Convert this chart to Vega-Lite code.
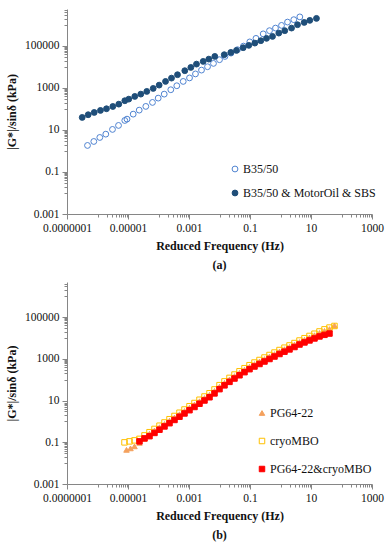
{
  "$schema": "https://vega.github.io/schema/vega-lite/v6.json",
  "padding": {"left": 5, "top": 4, "right": 5, "bottom": 5},
  "background": "white",
  "spacing": 6,
  "resolve": {
    "scale": {"fill": "independent", "stroke": "independent", "shape": "independent", "x": "independent", "y": "independent"},
    "legend": {"fill": "independent", "stroke": "independent", "shape": "independent"}
  },
  "config": {
    "font": "Liberation Serif",
    "view": {"stroke": null},
    "axis": {
      "grid": false,
      "domainColor": "#868686",
      "tickColor": "#868686",
      "labelFont": "Liberation Serif",
      "labelFontSize": 11.5,
      "labelColor": "#111",
      "labelOverlap": false,
      "labelFlush": false,
      "labelPadding": 3,
      "titleFont": "Liberation Serif",
      "titleFontSize": 12,
      "titleFontWeight": "bold",
      "titleColor": "#111"
    },
    "legend": {"labelFont": "Liberation Serif", "labelFontSize": 12, "labelColor": "#111"}
  },
  "vconcat": [
    {
      "title": {"text": "(a)", "orient": "bottom", "fontSize": 12, "fontWeight": "bold", "font": "Liberation Serif", "offset": 8, "color": "#111"},
      "width": 305,
      "height": 205,
      "data": {"values": [
        {"series": "B35/50", "f": 4.70e-7, "G": 1.83},
        {"series": "B35/50", "f": 7.57e-7, "G": 2.83},
        {"series": "B35/50", "f": 1.19e-6, "G": 4.39},
        {"series": "B35/50", "f": 1.87e-6, "G": 6.31},
        {"series": "B35/50", "f": 3.10e-6, "G": 10.6},
        {"series": "B35/50", "f": 4.89e-6, "G": 16.4},
        {"series": "B35/50", "f": 7.85e-6, "G": 28.3},
        {"series": "B35/50", "f": 9.27e-6, "G": 32.7},
        {"series": "B35/50", "f": 1.48e-5, "G": 56.5},
        {"series": "B35/50", "f": 2.33e-5, "G": 87.7},
        {"series": "B35/50", "f": 3.84e-5, "G": 132},
        {"series": "B35/50", "f": 6.35e-5, "G": 204},
        {"series": "B35/50", "f": 9.77e-5, "G": 327},
        {"series": "B35/50", "f": 1.54e-4, "G": 507},
        {"series": "B35/50", "f": 2.53e-4, "G": 820},
        {"series": "B35/50", "f": 3.98e-4, "G": 1270},
        {"series": "B35/50", "f": 6.46e-4, "G": 2040},
        {"series": "B35/50", "f": 1.04e-3, "G": 2990},
        {"series": "B35/50", "f": 1.63e-3, "G": 4640},
        {"series": "B35/50", "f": 2.57e-3, "G": 7050},
        {"series": "B35/50", "f": 4.05e-3, "G": 10200},
        {"series": "B35/50", "f": 6.35e-3, "G": 14700},
        {"series": "B35/50", "f": 0.0100, "G": 22000},
        {"series": "B35/50", "f": 0.0151, "G": 31600},
        {"series": "B35/50", "f": 0.0238, "G": 45400},
        {"series": "B35/50", "f": 0.0389, "G": 65900},
        {"series": "B35/50", "f": 0.0612, "G": 97800},
        {"series": "B35/50", "f": 0.0984, "G": 155000},
        {"series": "B35/50", "f": 0.157, "G": 228000},
        {"series": "B35/50", "f": 0.271, "G": 373000},
        {"series": "B35/50", "f": 0.436, "G": 530000},
        {"series": "B35/50", "f": 0.685, "G": 705000},
        {"series": "B35/50", "f": 1.08, "G": 946000},
        {"series": "B35/50", "f": 1.70, "G": 1360000},
        {"series": "B35/50", "f": 2.73, "G": 1770000},
        {"series": "B35/50", "f": 4.30, "G": 2400000},
        {"series": "B35/50 & MotorOil & SBS", "f": 3.15e-7, "G": 39.4},
        {"series": "B35/50 & MotorOil & SBS", "f": 4.95e-7, "G": 53},
        {"series": "B35/50 & MotorOil & SBS", "f": 7.8e-7, "G": 68},
        {"series": "B35/50 & MotorOil & SBS", "f": 1.25e-6, "G": 85},
        {"series": "B35/50 & MotorOil & SBS", "f": 1.97e-6, "G": 102},
        {"series": "B35/50 & MotorOil & SBS", "f": 3.18e-6, "G": 131},
        {"series": "B35/50 & MotorOil & SBS", "f": 4.99e-6, "G": 169},
        {"series": "B35/50 & MotorOil & SBS", "f": 7.85e-6, "G": 246},
        {"series": "B35/50 & MotorOil & SBS", "f": 1.06e-5, "G": 293},
        {"series": "B35/50 & MotorOil & SBS", "f": 1.67e-5, "G": 394},
        {"series": "B35/50 & MotorOil & SBS", "f": 2.63e-5, "G": 507},
        {"series": "B35/50 & MotorOil & SBS", "f": 4.13e-5, "G": 681},
        {"series": "B35/50 & MotorOil & SBS", "f": 6.70e-5, "G": 946},
        {"series": "B35/50 & MotorOil & SBS", "f": 1.05e-4, "G": 1360},
        {"series": "B35/50 & MotorOil & SBS", "f": 1.70e-4, "G": 2040},
        {"series": "B35/50 & MotorOil & SBS", "f": 2.67e-4, "G": 2930},
        {"series": "B35/50 & MotorOil & SBS", "f": 4.20e-4, "G": 4260},
        {"series": "B35/50 & MotorOil & SBS", "f": 7.28e-4, "G": 6600},
        {"series": "B35/50 & MotorOil & SBS", "f": 1.15e-3, "G": 9460},
        {"series": "B35/50 & MotorOil & SBS", "f": 1.76e-3, "G": 13600},
        {"series": "B35/50 & MotorOil & SBS", "f": 2.92e-3, "G": 18300},
        {"series": "B35/50 & MotorOil & SBS", "f": 4.46e-3, "G": 23500},
        {"series": "B35/50 & MotorOil & SBS", "f": 7.02e-3, "G": 31600},
        {"series": "B35/50 & MotorOil & SBS", "f": 0.0143, "G": 38100},
        {"series": "B35/50 & MotorOil & SBS", "f": 0.0235, "G": 49000},
        {"series": "B35/50 & MotorOil & SBS", "f": 0.0361, "G": 61100},
        {"series": "B35/50 & MotorOil & SBS", "f": 0.0598, "G": 82000},
        {"series": "B35/50 & MotorOil & SBS", "f": 0.0914, "G": 106000},
        {"series": "B35/50 & MotorOil & SBS", "f": 0.144, "G": 136000},
        {"series": "B35/50 & MotorOil & SBS", "f": 0.226, "G": 177000},
        {"series": "B35/50 & MotorOil & SBS", "f": 0.348, "G": 228000},
        {"series": "B35/50 & MotorOil & SBS", "f": 0.547, "G": 283000},
        {"series": "B35/50 & MotorOil & SBS", "f": 0.880, "G": 407000},
        {"series": "B35/50 & MotorOil & SBS", "f": 1.38, "G": 530000},
        {"series": "B35/50 & MotorOil & SBS", "f": 2.30, "G": 705000},
        {"series": "B35/50 & MotorOil & SBS", "f": 3.61, "G": 1020000},
        {"series": "B35/50 & MotorOil & SBS", "f": 5.98, "G": 1310000},
        {"series": "B35/50 & MotorOil & SBS", "f": 9.14, "G": 1640000},
        {"series": "B35/50 & MotorOil & SBS", "f": 15.1, "G": 2040000}
      ]},
      "mark": {"type": "point", "shape": "circle", "size": 34, "strokeWidth": 1, "opacity": 1},
      "encoding": {
        "x": {
          "field": "f", "type": "quantitative",
          "scale": {"type": "log", "domain": [1e-7, 1000], "nice": false},
          "axis": {
            "title": "Reduced Frequency (Hz)", "titlePadding": 7,
            "values": [1e-7, 1e-6, 2e-6, 3e-6, 4e-6, 5e-6, 6e-6, 7e-6, 8e-6, 9e-6, 1e-5, 1e-4, 2e-4, 3e-4, 4e-4, 5e-4, 6e-4, 7e-4, 8e-4, 9e-4, 0.001, 0.01, 0.02, 0.03, 0.04, 0.05, 0.06, 0.07, 0.08, 0.09, 0.1, 1, 2, 3, 4, 5, 6, 7, 8, 9, 10, 100, 200, 300, 400, 500, 600, 700, 800, 900, 1000],
            "tickSize": {"condition": {"test": "abs(log(datum.value)/LN10 - round(log(datum.value)/LN10)) < 0.001 && abs(round(log(datum.value)/LN10)) % 2 == 1", "value": 5}, "value": 3},
            "labelExpr": "(abs(log(datum.value)/LN10 - round(log(datum.value)/LN10)) < 0.001 && abs(round(log(datum.value)/LN10)) % 2 == 1) ? (round(log(datum.value)/LN10) < 0 ? format(datum.value, '.' + (-round(log(datum.value)/LN10)) + 'f') : format(datum.value, 'd')) : ''"
          }
        },
        "y": {
          "field": "G", "type": "quantitative",
          "scale": {"type": "log", "domain": [0.001, 5700000], "nice": false},
          "axis": {
            "title": "|G*|/sinδ (kPa)", "titlePadding": 6,
            "values": [0.001, 0.01, 0.02, 0.03, 0.04, 0.05, 0.06, 0.07, 0.08, 0.09, 0.1, 1, 2, 3, 4, 5, 6, 7, 8, 9, 10, 100, 200, 300, 400, 500, 600, 700, 800, 900, 1000, 10000, 20000, 30000, 40000, 50000, 60000, 70000, 80000, 90000, 100000, 1000000, 2000000, 3000000, 4000000, 5000000],
            "tickSize": {"condition": {"test": "abs(log(datum.value)/LN10 - round(log(datum.value)/LN10)) < 0.001 && abs(round(log(datum.value)/LN10)) % 2 == 1", "value": 5}, "value": 3},
            "labelExpr": "(abs(log(datum.value)/LN10 - round(log(datum.value)/LN10)) < 0.001 && abs(round(log(datum.value)/LN10)) % 2 == 1) ? (round(log(datum.value)/LN10) < 0 ? format(datum.value, '.' + (-round(log(datum.value)/LN10)) + 'f') : format(datum.value, 'd')) : ''"
          }
        },
        "fill": {
          "field": "series", "type": "nominal",
          "scale": {"domain": ["B35/50", "B35/50 & MotorOil & SBS"], "range": ["transparent", "#1F4E79"]},
          "legend": {"title": null, "orient": "none", "legendX": 162, "legendY": 154, "rowPadding": 12, "symbolSize": 34, "symbolStrokeWidth": 1, "labelOffset": 2}
        },
        "stroke": {
          "field": "series", "type": "nominal",
          "scale": {"domain": ["B35/50", "B35/50 & MotorOil & SBS"], "range": ["#4F83D1", "#1F4E79"]},
          "legend": {"title": null, "orient": "none", "legendX": 162, "legendY": 154, "rowPadding": 12, "symbolSize": 34, "symbolStrokeWidth": 1, "labelOffset": 2}
        }
      }
    },
    {
      "title": {"text": "(b)", "orient": "bottom", "fontSize": 12, "fontWeight": "bold", "font": "Liberation Serif", "offset": 8, "color": "#111"},
      "width": 305,
      "height": 202,
      "data": {"values": [
        {"series": "PG64-22", "f": 8.93e-6, "G": 0.0433},
        {"series": "PG64-22", "f": 1.208e-5, "G": 0.0510},
        {"series": "PG64-22", "f": 1.633e-5, "G": 0.0637},
        {"series": "PG64-22", "f": 2.38e-5, "G": 0.0936},
        {"series": "PG64-22", "f": 3.475e-5, "G": 0.1455},
        {"series": "PG64-22", "f": 5.07e-5, "G": 0.258},
        {"series": "PG64-22", "f": 7.39e-5, "G": 0.369},
        {"series": "PG64-22", "f": 1.078e-4, "G": 0.527},
        {"series": "PG64-22", "f": 1.573e-4, "G": 0.756},
        {"series": "PG64-22", "f": 2.294e-4, "G": 1.080},
        {"series": "PG64-22", "f": 3.346e-4, "G": 1.545},
        {"series": "PG64-22", "f": 4.88e-4, "G": 2.21},
        {"series": "PG64-22", "f": 7.12e-4, "G": 3.163},
        {"series": "PG64-22", "f": 1.038e-3, "G": 4.53},
        {"series": "PG64-22", "f": 1.515e-3, "G": 6.47},
        {"series": "PG64-22", "f": 2.21e-3, "G": 9.26},
        {"series": "PG64-22", "f": 3.22e-3, "G": 13.25},
        {"series": "PG64-22", "f": 4.70e-3, "G": 18.9},
        {"series": "PG64-22", "f": 6.86e-3, "G": 28.9},
        {"series": "PG64-22", "f": 0.01, "G": 46.2},
        {"series": "PG64-22", "f": 0.01459, "G": 70.4},
        {"series": "PG64-22", "f": 0.02128, "G": 103.4},
        {"series": "PG64-22", "f": 0.03103, "G": 149.4},
        {"series": "PG64-22", "f": 0.04526, "G": 213.7},
        {"series": "PG64-22", "f": 0.06602, "G": 301},
        {"series": "PG64-22", "f": 0.0963, "G": 419},
        {"series": "PG64-22", "f": 0.1404, "G": 564},
        {"series": "PG64-22", "f": 0.2049, "G": 744},
        {"series": "PG64-22", "f": 0.2988, "G": 978},
        {"series": "PG64-22", "f": 0.4358, "G": 1289},
        {"series": "PG64-22", "f": 0.6356, "G": 1696},
        {"series": "PG64-22", "f": 0.927, "G": 2235},
        {"series": "PG64-22", "f": 1.352, "G": 2893},
        {"series": "PG64-22", "f": 1.973, "G": 3710},
        {"series": "PG64-22", "f": 2.877, "G": 4834},
        {"series": "PG64-22", "f": 4.198, "G": 6373},
        {"series": "PG64-22", "f": 6.12, "G": 8251},
        {"series": "PG64-22", "f": 8.93, "G": 10575},
        {"series": "PG64-22", "f": 13.02, "G": 13534},
        {"series": "PG64-22", "f": 19.0, "G": 17350},
        {"series": "PG64-22", "f": 27.7, "G": 21860},
        {"series": "PG64-22", "f": 40.4, "G": 26690},
        {"series": "PG64-22", "f": 58.9, "G": 39200},
        {"series": "cryoMBO", "f": 7.68e-6, "G": 0.0989},
        {"series": "cryoMBO", "f": 1.12e-5, "G": 0.1104},
        {"series": "cryoMBO", "f": 1.633e-5, "G": 0.1233},
        {"series": "cryoMBO", "f": 2.38e-5, "G": 0.1455},
        {"series": "cryoMBO", "f": 3.475e-5, "G": 0.2138},
        {"series": "cryoMBO", "f": 5.07e-5, "G": 0.304},
        {"series": "cryoMBO", "f": 7.39e-5, "G": 0.4355},
        {"series": "cryoMBO", "f": 1.078e-4, "G": 0.622},
        {"series": "cryoMBO", "f": 1.573e-4, "G": 0.891},
        {"series": "cryoMBO", "f": 2.294e-4, "G": 1.274},
        {"series": "cryoMBO", "f": 3.346e-4, "G": 1.822},
        {"series": "cryoMBO", "f": 4.88e-4, "G": 2.606},
        {"series": "cryoMBO", "f": 7.12e-4, "G": 3.73},
        {"series": "cryoMBO", "f": 1.038e-3, "G": 5.34},
        {"series": "cryoMBO", "f": 1.515e-3, "G": 7.63},
        {"series": "cryoMBO", "f": 2.21e-3, "G": 10.92},
        {"series": "cryoMBO", "f": 3.22e-3, "G": 15.62},
        {"series": "cryoMBO", "f": 4.70e-3, "G": 22.3},
        {"series": "cryoMBO", "f": 6.86e-3, "G": 34.1},
        {"series": "cryoMBO", "f": 0.01, "G": 54.5},
        {"series": "cryoMBO", "f": 0.01459, "G": 83.0},
        {"series": "cryoMBO", "f": 0.02128, "G": 121.9},
        {"series": "cryoMBO", "f": 0.03103, "G": 176.2},
        {"series": "cryoMBO", "f": 0.04526, "G": 252},
        {"series": "cryoMBO", "f": 0.06602, "G": 355},
        {"series": "cryoMBO", "f": 0.0963, "G": 494},
        {"series": "cryoMBO", "f": 0.1404, "G": 665},
        {"series": "cryoMBO", "f": 0.2049, "G": 877},
        {"series": "cryoMBO", "f": 0.2988, "G": 1153},
        {"series": "cryoMBO", "f": 0.4358, "G": 1520},
        {"series": "cryoMBO", "f": 0.6356, "G": 2000},
        {"series": "cryoMBO", "f": 0.927, "G": 2636},
        {"series": "cryoMBO", "f": 1.352, "G": 3412},
        {"series": "cryoMBO", "f": 1.973, "G": 4375},
        {"series": "cryoMBO", "f": 2.877, "G": 5700},
        {"series": "cryoMBO", "f": 4.198, "G": 7515},
        {"series": "cryoMBO", "f": 6.12, "G": 9730},
        {"series": "cryoMBO", "f": 8.93, "G": 12470},
        {"series": "cryoMBO", "f": 13.02, "G": 15960},
        {"series": "cryoMBO", "f": 19.0, "G": 20460},
        {"series": "cryoMBO", "f": 27.7, "G": 25780},
        {"series": "cryoMBO", "f": 40.4, "G": 31470},
        {"series": "cryoMBO", "f": 58.9, "G": 37500},
        {"series": "PG64-22&cryoMBO", "f": 2.38e-5, "G": 0.1104},
        {"series": "PG64-22&cryoMBO", "f": 3.475e-5, "G": 0.1535},
        {"series": "PG64-22&cryoMBO", "f": 5.07e-5, "G": 0.1958},
        {"series": "PG64-22&cryoMBO", "f": 7.39e-5, "G": 0.2805},
        {"series": "PG64-22&cryoMBO", "f": 1.078e-4, "G": 0.4006},
        {"series": "PG64-22&cryoMBO", "f": 1.573e-4, "G": 0.574},
        {"series": "PG64-22&cryoMBO", "f": 2.294e-4, "G": 0.820},
        {"series": "PG64-22&cryoMBO", "f": 3.346e-4, "G": 1.173},
        {"series": "PG64-22&cryoMBO", "f": 4.88e-4, "G": 1.678},
        {"series": "PG64-22&cryoMBO", "f": 7.12e-4, "G": 2.402},
        {"series": "PG64-22&cryoMBO", "f": 1.038e-3, "G": 3.44},
        {"series": "PG64-22&cryoMBO", "f": 1.515e-3, "G": 4.91},
        {"series": "PG64-22&cryoMBO", "f": 2.21e-3, "G": 7.03},
        {"series": "PG64-22&cryoMBO", "f": 3.22e-3, "G": 10.06},
        {"series": "PG64-22&cryoMBO", "f": 4.70e-3, "G": 14.36},
        {"series": "PG64-22&cryoMBO", "f": 6.86e-3, "G": 21.96},
        {"series": "PG64-22&cryoMBO", "f": 0.01, "G": 35.1},
        {"series": "PG64-22&cryoMBO", "f": 0.01459, "G": 53.5},
        {"series": "PG64-22&cryoMBO", "f": 0.02128, "G": 78.5},
        {"series": "PG64-22&cryoMBO", "f": 0.03103, "G": 113.5},
        {"series": "PG64-22&cryoMBO", "f": 0.04526, "G": 162.3},
        {"series": "PG64-22&cryoMBO", "f": 0.06602, "G": 228.6},
        {"series": "PG64-22&cryoMBO", "f": 0.0963, "G": 318},
        {"series": "PG64-22&cryoMBO", "f": 0.1404, "G": 428},
        {"series": "PG64-22&cryoMBO", "f": 0.2049, "G": 565},
        {"series": "PG64-22&cryoMBO", "f": 0.2988, "G": 743},
        {"series": "PG64-22&cryoMBO", "f": 0.4358, "G": 979},
        {"series": "PG64-22&cryoMBO", "f": 0.6356, "G": 1288},
        {"series": "PG64-22&cryoMBO", "f": 0.927, "G": 1698},
        {"series": "PG64-22&cryoMBO", "f": 1.352, "G": 2197},
        {"series": "PG64-22&cryoMBO", "f": 1.973, "G": 2818},
        {"series": "PG64-22&cryoMBO", "f": 2.877, "G": 3671},
        {"series": "PG64-22&cryoMBO", "f": 4.198, "G": 4840},
        {"series": "PG64-22&cryoMBO", "f": 6.12, "G": 6091},
        {"series": "PG64-22&cryoMBO", "f": 8.93, "G": 7594},
        {"series": "PG64-22&cryoMBO", "f": 13.02, "G": 9450},
        {"series": "PG64-22&cryoMBO", "f": 19.0, "G": 11785},
        {"series": "PG64-22&cryoMBO", "f": 27.7, "G": 14076},
        {"series": "PG64-22&cryoMBO", "f": 40.4, "G": 16240}
      ]},
      "mark": {"type": "point", "size": 30, "strokeWidth": 1, "opacity": 1},
      "encoding": {
        "x": {
          "field": "f", "type": "quantitative",
          "scale": {"type": "log", "domain": [1e-7, 1000], "nice": false},
          "axis": {
            "title": "Reduced Frequency (Hz)", "titlePadding": 7,
            "values": [1e-7, 1e-6, 2e-6, 3e-6, 4e-6, 5e-6, 6e-6, 7e-6, 8e-6, 9e-6, 1e-5, 1e-4, 2e-4, 3e-4, 4e-4, 5e-4, 6e-4, 7e-4, 8e-4, 9e-4, 0.001, 0.01, 0.02, 0.03, 0.04, 0.05, 0.06, 0.07, 0.08, 0.09, 0.1, 1, 2, 3, 4, 5, 6, 7, 8, 9, 10, 100, 200, 300, 400, 500, 600, 700, 800, 900, 1000],
            "tickSize": {"condition": {"test": "abs(log(datum.value)/LN10 - round(log(datum.value)/LN10)) < 0.001 && abs(round(log(datum.value)/LN10)) % 2 == 1", "value": 5}, "value": 3},
            "labelExpr": "(abs(log(datum.value)/LN10 - round(log(datum.value)/LN10)) < 0.001 && abs(round(log(datum.value)/LN10)) % 2 == 1) ? (round(log(datum.value)/LN10) < 0 ? format(datum.value, '.' + (-round(log(datum.value)/LN10)) + 'f') : format(datum.value, 'd')) : ''"
          }
        },
        "y": {
          "field": "G", "type": "quantitative",
          "scale": {"type": "log", "domain": [0.001, 4800000], "nice": false},
          "axis": {
            "title": "|G*|/sinδ (kPa)", "titlePadding": 6,
            "values": [0.001, 0.01, 0.02, 0.03, 0.04, 0.05, 0.06, 0.07, 0.08, 0.09, 0.1, 1, 2, 3, 4, 5, 6, 7, 8, 9, 10, 100, 200, 300, 400, 500, 600, 700, 800, 900, 1000, 10000, 20000, 30000, 40000, 50000, 60000, 70000, 80000, 90000, 100000, 1000000, 2000000, 3000000, 4000000],
            "tickSize": {"condition": {"test": "abs(log(datum.value)/LN10 - round(log(datum.value)/LN10)) < 0.001 && abs(round(log(datum.value)/LN10)) % 2 == 1", "value": 5}, "value": 3},
            "labelExpr": "(abs(log(datum.value)/LN10 - round(log(datum.value)/LN10)) < 0.001 && abs(round(log(datum.value)/LN10)) % 2 == 1) ? (round(log(datum.value)/LN10) < 0 ? format(datum.value, '.' + (-round(log(datum.value)/LN10)) + 'f') : format(datum.value, 'd')) : ''"
          }
        },
        "shape": {
          "field": "series", "type": "nominal",
          "scale": {"domain": ["PG64-22", "cryoMBO", "PG64-22&cryoMBO"], "range": ["triangle-up", "square", "square"]},
          "legend": {"title": null, "orient": "none", "legendX": 189, "legendY": 125, "rowPadding": 16, "symbolSize": 30, "symbolStrokeWidth": 1, "labelOffset": 2}
        },
        "fill": {
          "field": "series", "type": "nominal",
          "scale": {"domain": ["PG64-22", "cryoMBO", "PG64-22&cryoMBO"], "range": ["#F4A15D", "transparent", "#FF0000"]},
          "legend": {"title": null, "orient": "none", "legendX": 189, "legendY": 125, "rowPadding": 16, "symbolSize": 30, "symbolStrokeWidth": 1, "labelOffset": 2}
        },
        "stroke": {
          "field": "series", "type": "nominal",
          "scale": {"domain": ["PG64-22", "cryoMBO", "PG64-22&cryoMBO"], "range": ["#F4A15D", "#FFC000", "#FF0000"]},
          "legend": {"title": null, "orient": "none", "legendX": 189, "legendY": 125, "rowPadding": 16, "symbolSize": 30, "symbolStrokeWidth": 1, "labelOffset": 2}
        }
      }
    }
  ]
}
